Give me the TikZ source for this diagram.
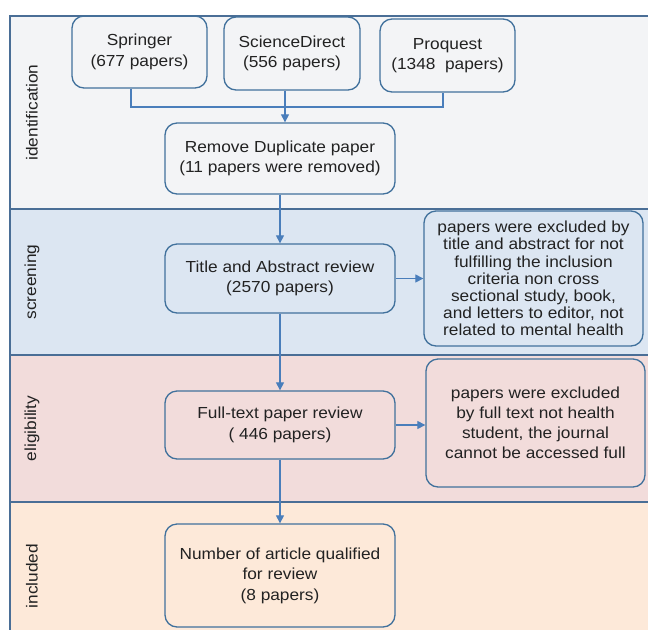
\documentclass[tikz,border=0pt]{standalone}
\usepackage{fontspec}
\setmainfont{Liberation Sans}[FakeStretch=1.08]
\usetikzlibrary{arrows.meta}
\definecolor{laneA}{HTML}{F3F4F6}
\definecolor{laneB}{HTML}{DCE6F2}
\definecolor{laneC}{HTML}{F2DCDB}
\definecolor{laneD}{HTML}{FDE9D9}
\definecolor{laneline}{HTML}{4A6E96}
\definecolor{boxline}{HTML}{41719C}
\definecolor{arrcol}{HTML}{4A7EBB}
\definecolor{txt}{HTML}{222222}
\tikzset{
  box/.style={draw=boxline, line width=1.3pt, rounded corners=12pt, align=center,
    inner sep=0pt, text=txt, font=\fontsize{16}{20.5}\selectfont},
  lanelabel/.style={rotate=90, text=txt, font=\fontsize{16}{20}\selectfont, inner sep=0pt},
  conn/.style={draw=arrcol, line width=1.1pt},
  arr/.style={conn, -{Triangle[length=8pt,width=8pt]}},
  laneborder/.style={draw=laneline, line width=1.8pt}
}
\begin{document}
\begin{tikzpicture}[x=1pt,y=-1pt]
\useasboundingbox (0,0) rectangle (648,630);
% lanes
\fill[laneA] (10,16) rectangle (648,209);
\fill[laneB] (10,209) rectangle (648,355);
\fill[laneC] (10,355) rectangle (648,502);
\fill[laneD] (10,502) rectangle (648,630);
\draw[laneborder] (648,16) -- (10,16) -- (10,630);
\draw[laneborder] (10,209) -- (648,209);
\draw[laneborder] (10,355) -- (648,355);
\draw[laneborder] (10,502) -- (648,502);
% lane labels
\node[lanelabel] (lid) at (32,112.5) {identification};
\node[lanelabel] (lsc) at (32,282) {screening};
\node[lanelabel] (lel) at (32,428.5) {eligibility};
\node[lanelabel] (lin) at (32,576) {included};
% boxes
\node[box, minimum width=135pt, minimum height=72pt] (sp) at (139.5,52) {Springer\\(677 papers)};
\node[box, minimum width=136pt, minimum height=73pt] (sd) at (292,53.5) {ScienceDirect\\(556 papers)};
\node[box, minimum width=135pt, minimum height=73pt] (pq) at (447.5,55.5) {Proquest\\(1348~ papers)};
\node[box, minimum width=230pt, minimum height=71pt] (rm) at (280,158.5) {Remove Duplicate paper\\(11 papers were removed)};
\node[box, minimum width=230pt, minimum height=69pt] (ta) at (280,278.5) {Title and Abstract review\\(2570 papers)};
\node[box, minimum width=219pt, minimum height=135pt, font=\fontsize{16}{17.2}\selectfont] (ex1) at (533.5,278.5)
  {papers were excluded by\\title and abstract for not\\fulfilling the inclusion\\criteria non cross\\sectional study, book,\\and letters to editor, not\\related to mental health};
\node[box, minimum width=230pt, minimum height=68pt] (ft) at (280,425) {Full-text paper review\\( 446 papers)};
\node[box, minimum width=219pt, minimum height=128pt, font=\fontsize{16}{20}\selectfont] (ex2) at (535.5,423)
  {papers were excluded\\by full text not health\\student, the journal\\cannot be accessed full};
\node[box, minimum width=230pt, minimum height=103pt] (fin) at (280,575.5) {Number of article qualified\\for review\\(8 papers)};
% connectors
\coordinate (j1) at (131,107);
\coordinate (j2) at (443,107);
\coordinate (j3) at (285,107);
\draw[conn] (sp.south -| j1) -- (j1) -- (j2) -- (pq.south -| j2);
\draw[arr] (sd.south -| j3) -- (rm.north -| j3);
\draw[arr] (rm.south) -- (ta.north);
\draw[arr] (ta.east) -- (ta.east -| ex1.west);
\draw[arr] (ta.south) -- (ft.north);
\draw[arr] (ft.east) -- (ft.east -| ex2.west);
\draw[arr] (ft.south) -- (fin.north);
\end{tikzpicture}
\end{document}
